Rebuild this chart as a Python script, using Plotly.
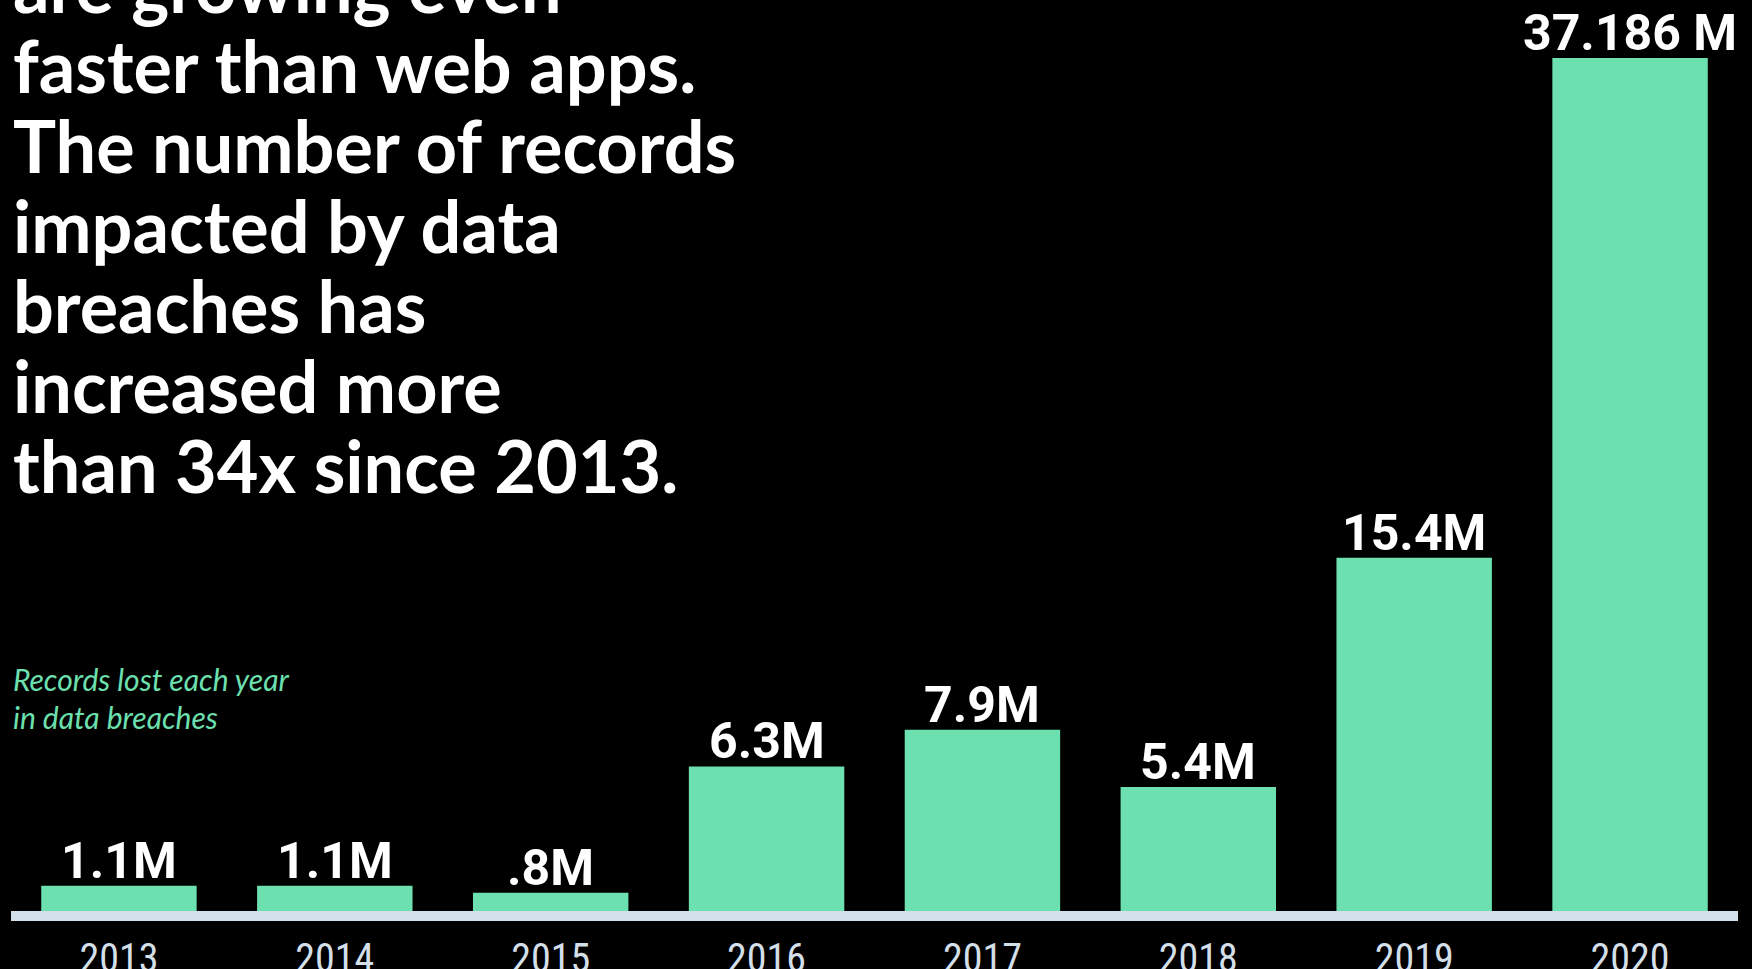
import plotly.graph_objects as go

# Records lost in data breaches, millions per year
years = ["2013", "2014", "2015", "2016", "2017", "2018", "2019", "2020"]
records_millions = [1.1, 1.1, 0.8, 6.3, 7.9, 5.4, 15.4, 37.186]
value_labels = ["1.1M", "1.1M", ".8M", "6.3M", "7.9M", "5.4M", "15.4M", "37.186 M"]

headline_lines = [
    "are growing even",
    "faster than web apps.",
    "The number of records",
    "impacted by data",
    "breaches has",
    "increased more",
    "than 34x since 2013.",
]
caption_lines = ["Records lost each year", "in data breaches"]

W, H = 1752, 969
MARGIN_T, MARGIN_B, MARGIN_L, MARGIN_R = 0, 58, 11, 14
PLOT_H = H - MARGIN_T - MARGIN_B

BAR = "#6de0b0"
AXIS = "#d3dfe9"
HEAD_FONT = "Lato, 'Open Sans', sans-serif"
NUM_FONT = "Roboto, 'Liberation Sans', sans-serif"


def paper_y(px):
    """Convert a pixel row (from top of the page) into paper y."""
    return (MARGIN_T + PLOT_H - px) / PLOT_H


fig = go.Figure(
    go.Bar(
        x=years,
        y=records_millions,
        marker=dict(color=BAR, line=dict(width=0)),
        width=0.72,
        hoverinfo="skip",
    )
)

annotations = []
# value labels sit just above each bar (x is the category index)
for idx, (value, label) in enumerate(zip(records_millions, value_labels)):
    annotations.append(
        dict(
            text=f"<b>{label}</b>",
            xref="x", yref="y",
            x=idx, y=value,
            xanchor="center", yanchor="bottom",
            yshift=-6,
            showarrow=False,
            font=dict(family=NUM_FONT, size=50, color="#ffffff"),
        )
    )
# headline: one annotation per line so the leading stays tight
for i, line in enumerate(headline_lines):
    baseline = 10 + 80 * i
    annotations.append(
        dict(
            text=f"<b>{line}</b>",
            xref="paper", yref="paper",
            x=0, y=paper_y(baseline - 25),
            xanchor="left", yanchor="middle",
            showarrow=False,
            font=dict(family=HEAD_FONT, size=72, color="#ffffff"),
        )
    )
for i, line in enumerate(caption_lines):
    baseline = 688 + 38 * i
    annotations.append(
        dict(
            text=f"<i>{line}</i>",
            xref="paper", yref="paper",
            x=0, y=paper_y(baseline - 9),
            xanchor="left", yanchor="middle",
            showarrow=False,
            font=dict(family=HEAD_FONT, size=30, color=BAR),
        )
    )

fig.update_layout(
    width=W, height=H,
    margin=dict(t=MARGIN_T, b=MARGIN_B, l=MARGIN_L, r=MARGIN_R, pad=0),
    paper_bgcolor="#000000",
    plot_bgcolor="#000000",
    showlegend=False,
    annotations=annotations,
    xaxis=dict(
        type="category",
        range=[-0.5, len(years) - 0.5],
        automargin=False,
        showgrid=False, zeroline=False,
        showline=True, linecolor=AXIS, linewidth=10,
        ticks="", ticklabelstandoff=3,
        tickfont=dict(family="'Liberation Sans Narrow', 'Roboto Condensed', Roboto, sans-serif",
                      size=40, color=AXIS),
        fixedrange=True,
    ),
    yaxis=dict(
        range=[0, 39.71],
        automargin=False,
        visible=False, showgrid=False, zeroline=False,
        fixedrange=True,
    ),
)

fig.write_html("out.html")
